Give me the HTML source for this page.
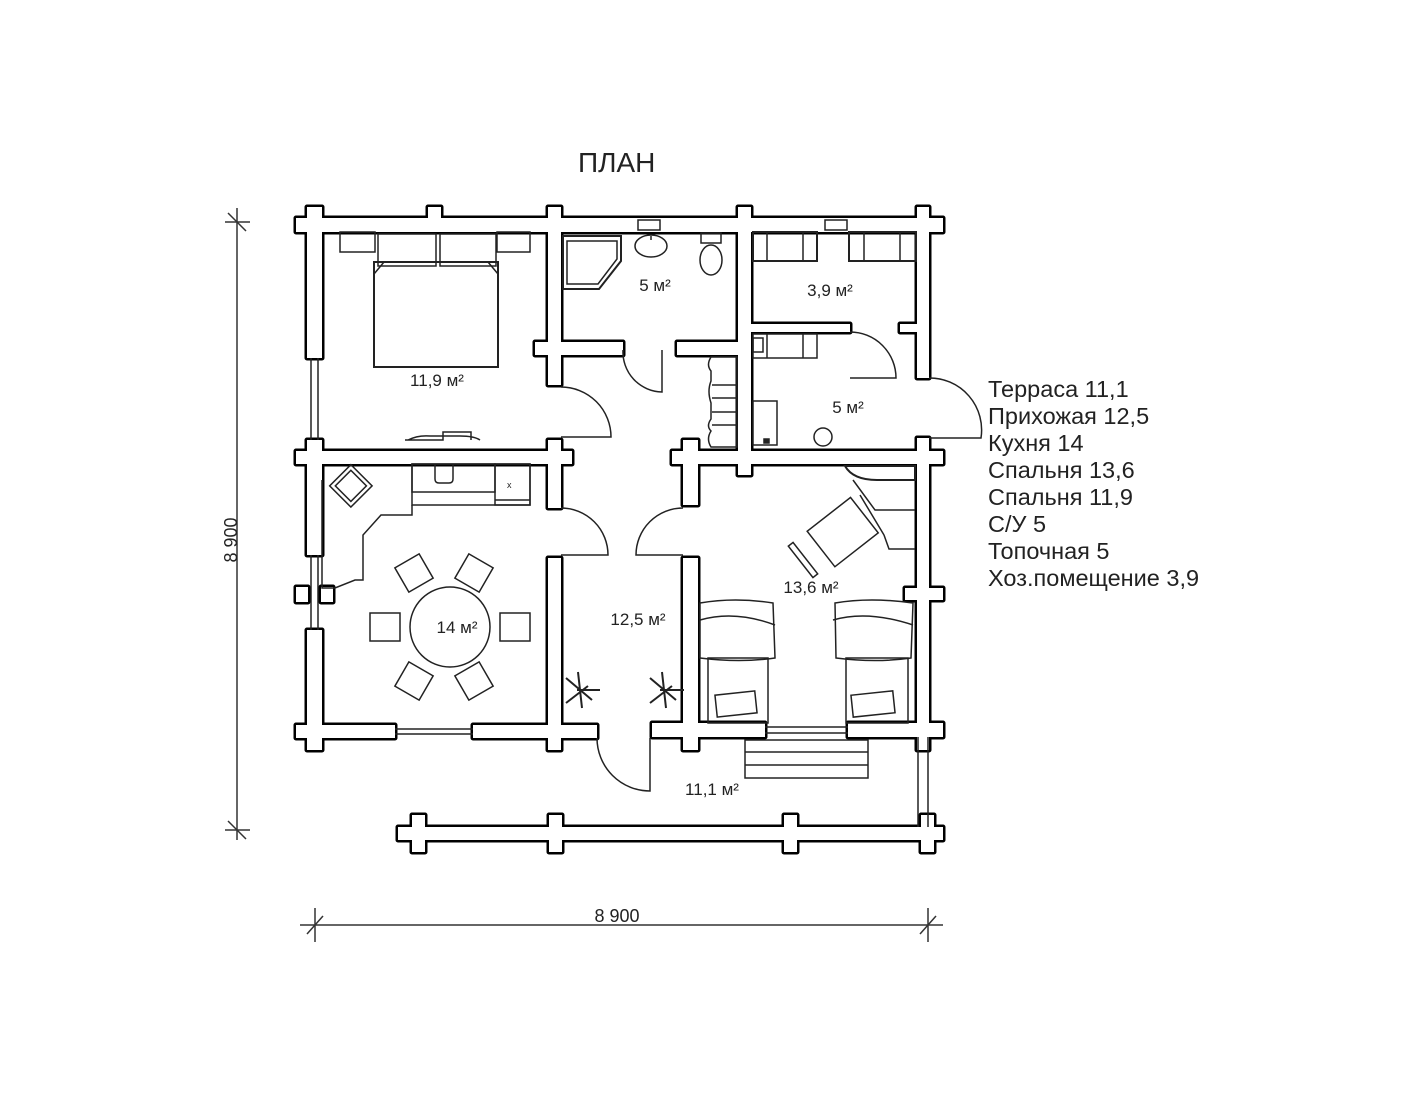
<!DOCTYPE html>
<html><head><meta charset="utf-8"><style>
html,body{margin:0;padding:0;background:#fff;}
svg{display:block;}
text{font-family:"Liberation Sans",Arial,sans-serif;fill:#222;}
</style></head><body>
<svg width="1422" height="1100" viewBox="0 0 1422 1100" xmlns="http://www.w3.org/2000/svg">
<rect width="1422" height="1100" fill="#fff"/>
<text x="578" y="172" font-size="28">ПЛАН</text>

<!-- walls: outline pass -->
<g fill="#000" stroke="#000" stroke-width="5" stroke-linejoin="round">
<rect x="296" y="218" width="647" height="14"/>
<rect x="307" y="207" width="15" height="151"/><rect x="307" y="440" width="15" height="115"/><rect x="307" y="630" width="15" height="120"/>
<rect x="428" y="207" width="13" height="25"/>
<rect x="548" y="207" width="13" height="178"/>
<rect x="738" y="207" width="13" height="268"/>
<rect x="917" y="207" width="12" height="171"/>
<rect x="296" y="451" width="276" height="13"/>
<rect x="548" y="440" width="13" height="68"/>
<rect x="296" y="587" width="12" height="15"/><rect x="321" y="587" width="12" height="15"/>
<rect x="535" y="342" width="88" height="13"/>
<rect x="677" y="342" width="74" height="13"/>
<rect x="672" y="451" width="271" height="13"/>
<rect x="683" y="440" width="15" height="65"/>
<rect x="917" y="438" width="12" height="312"/>
<rect x="905" y="588" width="38" height="12"/>
<rect x="548" y="558" width="13" height="192"/>
<rect x="683" y="558" width="15" height="192"/>
<rect x="296" y="725" width="99" height="13"/><rect x="473" y="725" width="124" height="13"/>
<rect x="652" y="723" width="113" height="14"/><rect x="848" y="723" width="95" height="14"/>
<rect x="751" y="324" width="99" height="8"/><rect x="900" y="324" width="17" height="8"/>
<rect x="398" y="827" width="545" height="13"/>
<rect x="412" y="815" width="13" height="37"/><rect x="549" y="815" width="13" height="37"/>
<rect x="784" y="815" width="13" height="37"/><rect x="921" y="815" width="13" height="37"/>
</g>
<g fill="#fff">
<rect x="296" y="218" width="647" height="14"/>
<rect x="307" y="207" width="15" height="151"/><rect x="307" y="440" width="15" height="115"/><rect x="307" y="630" width="15" height="120"/>
<rect x="428" y="207" width="13" height="25"/>
<rect x="548" y="207" width="13" height="178"/>
<rect x="738" y="207" width="13" height="268"/>
<rect x="917" y="207" width="12" height="171"/>
<rect x="296" y="451" width="276" height="13"/>
<rect x="548" y="440" width="13" height="68"/>
<rect x="296" y="587" width="12" height="15"/><rect x="321" y="587" width="12" height="15"/>
<rect x="535" y="342" width="88" height="13"/>
<rect x="677" y="342" width="74" height="13"/>
<rect x="672" y="451" width="271" height="13"/>
<rect x="683" y="440" width="15" height="65"/>
<rect x="917" y="438" width="12" height="312"/>
<rect x="905" y="588" width="38" height="12"/>
<rect x="548" y="558" width="13" height="192"/>
<rect x="683" y="558" width="15" height="192"/>
<rect x="296" y="725" width="99" height="13"/><rect x="473" y="725" width="124" height="13"/>
<rect x="652" y="723" width="113" height="14"/><rect x="848" y="723" width="95" height="14"/>
<rect x="751" y="324" width="99" height="8"/><rect x="900" y="324" width="17" height="8"/>
<rect x="398" y="827" width="545" height="13"/>
<rect x="412" y="815" width="13" height="37"/><rect x="549" y="815" width="13" height="37"/>
<rect x="784" y="815" width="13" height="37"/><rect x="921" y="815" width="13" height="37"/>
</g>

<g fill="none" stroke="#222" stroke-width="1.5">
<!-- windows -->
<line x1="311" y1="358" x2="311" y2="440"/><line x1="318" y1="358" x2="318" y2="440"/>
<line x1="311" y1="555" x2="311" y2="630"/><line x1="318" y1="555" x2="318" y2="630"/>
<line x1="395" y1="729" x2="473" y2="729"/><line x1="395" y1="734" x2="473" y2="734"/>
<line x1="765" y1="727" x2="848" y2="727"/><line x1="765" y1="733" x2="848" y2="733"/>
<rect x="638" y="220" width="22" height="10"/>
<rect x="825" y="220" width="22" height="10"/>
<line x1="918" y1="737" x2="918" y2="827"/><line x1="928" y1="737" x2="928" y2="827"/>

<!-- bedroom 1 -->
<rect x="340" y="232" width="35" height="20"/><rect x="497" y="232" width="33" height="20"/>
<rect x="378" y="234" width="58" height="32"/><rect x="440" y="234" width="56" height="32"/>
<rect x="374" y="262" width="124" height="105" stroke-width="2"/>
<path d="M374 274 L384 262 M498 274 L488 262"/>
<path d="M405 440 h38 v-8 h28 v8 M408 440 q10 -5 22 -4 h30 q14 0 20 4"/>

<!-- bath -->
<path d="M563 236 h58 v25 l-22 28 h-36 z" stroke-width="2"/>
<path d="M567 241 h50 v18 l-19 25 h-31 z"/>
<ellipse cx="651" cy="246" rx="16" ry="11"/><line x1="651" y1="240" x2="651" y2="236"/>
<rect x="701" y="233" width="20" height="10"/><ellipse cx="711" cy="260" rx="11" ry="15"/>

<!-- utility -->
<rect x="753" y="232" width="64" height="29" stroke-width="2"/><line x1="767" y1="232" x2="767" y2="261"/><line x1="803" y1="232" x2="803" y2="261"/>
<rect x="849" y="232" width="67" height="29" stroke-width="2"/><line x1="864" y1="232" x2="864" y2="261"/><line x1="900" y1="232" x2="900" y2="261"/>
<rect x="753" y="334" width="64" height="24"/><line x1="767" y1="334" x2="767" y2="358"/><line x1="803" y1="334" x2="803" y2="358"/>
<rect x="753" y="338" width="10" height="14"/>
<path d="M850 332 A46 46 0 0 1 896 378 L850 378"/>

<!-- tech room -->
<rect x="753" y="401" width="24" height="44"/><rect x="764" y="439" width="5" height="4" fill="#222"/>
<circle cx="823" cy="437" r="9"/>
<!-- hall shelves -->
<path d="M711 357 h26 v90 h-26 q-5 -8 0 -16 q-5 -5 0 -12 v-16 q-4 -12 0 -22 v-10 q-5 -6 0 -14z"/>
<line x1="712" y1="385" x2="737" y2="385"/><line x1="712" y1="398" x2="737" y2="398"/><line x1="712" y1="412" x2="737" y2="412"/><line x1="712" y1="425" x2="737" y2="425"/>

<!-- doors -->
<path d="M561 387 A50 50 0 0 1 611 437 L561 437"/>
<path d="M623 350 A40 40 0 0 0 662 392 L662 350"/>
<path d="M561 508 A47 47 0 0 1 608 555 L561 555"/>
<path d="M683 508 A47 47 0 0 0 636 555 L683 555"/>
<path d="M597 738 A53 53 0 0 0 650 791 L650 738"/>
<path d="M929 378 A52 52 0 0 1 981 438 L929 438"/>

<!-- kitchen -->
<rect x="412" y="464" width="118" height="41"/>
<rect x="412" y="464" width="83" height="28"/>
<path d="M435 464 v15 q0 4 4 4 h10 q4 0 4 -4 v-15"/>
<rect x="495" y="464" width="35" height="41"/><line x1="495" y1="500" x2="530" y2="500"/>
<text x="507" y="488" font-size="9" stroke="none">x</text>
<path d="M322 480 v108 h13 l20 -8 h8 v-45 l18 -20 h31 v-10"/>
<rect x="335" y="473" width="30" height="30" transform="rotate(45 353 488)" stroke-width="1.5"/>
<rect x="339" y="477" width="22" height="22" transform="rotate(45 353 488)"/>
<circle cx="450" cy="627" r="40" stroke-width="1.5"/>
<g>
<rect x="370" y="613" width="30" height="28"/><rect x="500" y="613" width="30" height="28"/>
<rect x="400" y="559" width="28" height="28" transform="rotate(-30 414 573)"/>
<rect x="460" y="559" width="28" height="28" transform="rotate(30 474 573)"/>
<rect x="400" y="667" width="28" height="28" transform="rotate(30 414 681)"/>
<rect x="460" y="667" width="28" height="28" transform="rotate(-30 474 681)"/>
</g>
<!-- lights -->
<path d="M566 678 L592 700 M566 703 L588 686 M578 672 L582 708 M577 690 L600 690" stroke-width="2"/>
<path d="M650 678 L676 700 M650 703 L672 686 M662 672 L666 708 M660 690 L684 690" stroke-width="2"/>

<!-- bedroom 2 -->
<path d="M845 466 q8 14 32 14 h38 v-14 z" stroke-width="2"/>
<path d="M853 480 l22 30 h40"/>
<rect x="815" y="510" width="55" height="45" transform="rotate(-38 842 532)"/>
<rect x="800" y="540" width="6" height="40" transform="rotate(-38 803 560)"/>
<path d="M860 495 l24 40 M884 535 l5 14 h26"/>
<path d="M700 603 q35 -6 73 0 l2 55 q-35 5 -75 0 z"/>
<path d="M700 620 q35 -10 75 5"/>
<rect x="708" y="658" width="60" height="65"/>
<rect x="716" y="693" width="40" height="22" transform="rotate(-6 736 704)"/>
<path d="M835 603 q35 -6 78 0 l-2 55 q-35 5 -75 0 z"/>
<path d="M833 620 q35 -10 80 5"/>
<rect x="846" y="658" width="62" height="65"/>
<rect x="852" y="693" width="42" height="22" transform="rotate(-6 873 704)"/>
<rect x="745" y="740" width="123" height="38"/>
<line x1="745" y1="752" x2="868" y2="752"/><line x1="745" y1="765" x2="868" y2="765"/>
</g>

<!-- area labels -->
<g font-size="17" text-anchor="middle">
<text x="437" y="386">11,9 м²</text>
<text x="655" y="291">5 м²</text>
<text x="830" y="296">3,9 м²</text>
<text x="848" y="413">5 м²</text>
<text x="457" y="633">14 м²</text>
<text x="638" y="625">12,5 м²</text>
<text x="811" y="593">13,6 м²</text>
<text x="712" y="795">11,1 м²</text>
</g>

<!-- dimensions -->
<g stroke="#333" stroke-width="1.5">
<line x1="237" y1="208" x2="237" y2="840"/>
<line x1="225" y1="222" x2="250" y2="222"/><line x1="228" y1="213" x2="246" y2="231"/>
<line x1="225" y1="830" x2="250" y2="830"/><line x1="228" y1="821" x2="246" y2="839"/>
<line x1="300" y1="925" x2="943" y2="925"/>
<line x1="315" y1="908" x2="315" y2="942"/><line x1="307" y1="934" x2="323" y2="916"/>
<line x1="928" y1="908" x2="928" y2="942"/><line x1="920" y1="934" x2="936" y2="916"/>
</g>
<text x="617" y="922" font-size="18" text-anchor="middle">8 900</text>
<text x="0" y="0" font-size="18" text-anchor="middle" transform="translate(237 540) rotate(-90)">8 900</text>

<!-- legend -->
<g font-size="23.5">
<text x="988" y="397">Терраса 11,1</text>
<text x="988" y="424">Прихожая 12,5</text>
<text x="988" y="451">Кухня 14</text>
<text x="988" y="478">Спальня 13,6</text>
<text x="988" y="505">Спальня 11,9</text>
<text x="988" y="532">С/У 5</text>
<text x="988" y="559">Топочная 5</text>
<text x="988" y="586">Хоз.помещение 3,9</text>
</g>
</svg>
</body></html>
